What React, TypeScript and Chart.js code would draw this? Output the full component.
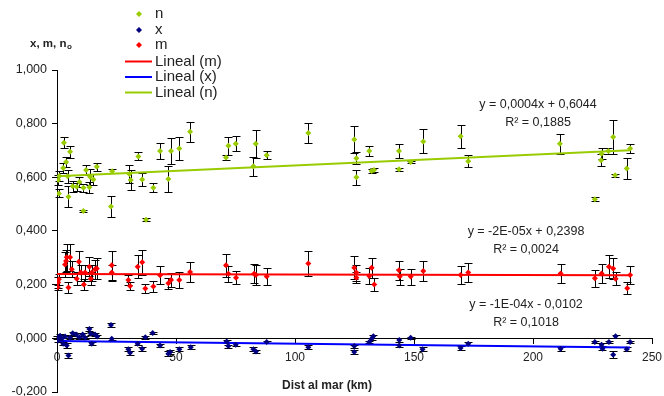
import React, { useEffect, useRef } from "react";
import { Chart, registerables } from "chart.js";

Chart.register(...registerables);

// ---------- DATA ----------
// n series (green)
const nDist = [0.5, 0.8, 1.0, 2.6, 2.9, 3.8, 4.5, 4.8, 5.5, 6.6, 8.3, 9.4, 11.1, 11.1, 12.2, 13.9, 13.6, 15.3, 16.7, 23.2, 22.7, 30.4, 31.0, 34.2, 35.8, 37.4, 40.5, 43.3, 46.8, 47.9, 51.4, 55.9, 71.0, 72.0, 75.1, 82.5, 83.5, 88.1, 105.6, 124.9, 125.8, 125.8, 131.2, 132.2, 133.2, 143.7, 143.7, 148.6, 153.9, 169.6, 172.8, 211.3, 226.0, 228.8, 228.6, 231.7, 233.7, 234.5, 239.4, 240.8];
const nVal = [0.590, 0.540, 0.605, 0.635, 0.729, 0.657, 0.604, 0.528, 0.695, 0.567, 0.565, 0.583, 0.561, 0.475, 0.627, 0.602, 0.563, 0.592, 0.639, 0.623, 0.491, 0.612, 0.590, 0.678, 0.592, 0.442, 0.561, 0.698, 0.594, 0.698, 0.707, 0.770, 0.674, 0.718, 0.725, 0.641, 0.725, 0.682, 0.765, 0.741, 0.671, 0.600, 0.698, 0.624, 0.627, 0.698, 0.630, 0.657, 0.734, 0.753, 0.660, 0.725, 0.518, 0.688, 0.664, 0.698, 0.750, 0.608, 0.633, 0.707];
const nErr = [0.02, 0.015, 0.02, 0.02, 0.02, 0.02, 0.025, 0.04, 0.023, 0.02, 0.015, 0.02, 0.015, 0.005, 0.02, 0.03, 0.02, 0.02, 0.016, 0.007, 0.038, 0.034, 0.037, 0.015, 0.026, 0.005, 0.017, 0.03, 0.049, 0.049, 0.044, 0.038, 0.011, 0.034, 0.028, 0.035, 0.052, 0.015, 0.038, 0.05, 0.022, 0.027, 0.017, 0.007, 0.007, 0.025, 0.005, 0.005, 0.045, 0.043, 0.022, 0.038, 0.008, 0.02, 0.023, 0.012, 0.062, 0.005, 0.038, 0.017];

// x series (navy)
const xDist = [0.0, 0.5, 1.3, 2.0, 2.6, 3.4, 4.1, 4.8, 5.5, 6.6, 8.0, 9.4, 10.8, 11.8, 13.6, 14.2, 14.6, 16.0, 16.9, 22.7, 23.0, 30.0, 30.7, 33.9, 35.8, 37.1, 40.2, 43.3, 46.8, 47.5, 51.4, 56.2, 71.3, 72.0, 75.1, 82.5, 83.6, 88.1, 105.6, 124.9, 124.9, 131.2, 132.2, 132.9, 143.8, 143.8, 148.6, 153.6, 169.6, 172.8, 211.6, 226.0, 228.8, 229.2, 231.9, 234.7, 233.7, 239.4, 240.8];
const xVal = [0.004, -0.008, 0.010, -0.002, -0.020, 0.007, -0.027, -0.064, 0.002, 0.019, 0.014, 0.004, 0.014, 0.002, 0.035, 0.017, -0.020, 0.014, 0.007, 0.050, -0.002, -0.041, -0.054, -0.020, -0.039, 0.004, 0.020, -0.027, -0.057, -0.051, -0.041, -0.033, -0.012, -0.029, -0.024, -0.041, -0.049, -0.014, -0.033, -0.029, -0.051, -0.014, -0.002, 0.008, -0.006, -0.027, 0.002, -0.041, -0.036, -0.020, -0.039, -0.014, -0.024, -0.039, -0.014, 0.008, -0.061, -0.041, -0.014];
const xErr = [0.005, 0.005, 0.005, 0.005, 0.006, 0.005, 0.008, 0.01, 0.005, 0.005, 0.005, 0.005, 0.005, 0.005, 0.008, 0.005, 0.005, 0.005, 0.005, 0.008, 0.004, 0.007, 0.007, 0.005, 0.007, 0.005, 0.005, 0.006, 0.008, 0.008, 0.007, 0.007, 0.005, 0.006, 0.005, 0.007, 0.007, 0.004, 0.007, 0.006, 0.007, 0.005, 0.005, 0.005, 0.006, 0.006, 0.004, 0.007, 0.007, 0.005, 0.007, 0.005, 0.006, 0.006, 0.005, 0.005, 0.012, 0.007, 0.005];

// m series (red)
const mDist = [0.3, 0.5, 0.8, 3.4, 3.8, 4.1, 4.8, 5.5, 6.2, 8.3, 9.2, 10.0, 11.3, 11.8, 13.6, 14.2, 14.6, 16.0, 16.7, 23.0, 23.0, 30.0, 30.7, 33.9, 35.8, 37.1, 40.5, 43.3, 46.8, 47.9, 51.4, 55.9, 71.0, 72.0, 75.2, 82.8, 83.6, 88.1, 105.6, 124.9, 125.8, 125.8, 131.2, 132.2, 133.3, 143.7, 144.0, 148.6, 153.9, 169.6, 172.8, 211.6, 226.0, 228.8, 231.9, 233.7, 234.7, 239.6, 240.8];
const mVal = [0.190, 0.208, 0.220, 0.275, 0.288, 0.302, 0.189, 0.302, 0.257, 0.222, 0.285, 0.245, 0.201, 0.245, 0.267, 0.222, 0.245, 0.257, 0.260, 0.272, 0.245, 0.217, 0.195, 0.267, 0.284, 0.186, 0.193, 0.235, 0.205, 0.217, 0.217, 0.247, 0.272, 0.241, 0.226, 0.241, 0.236, 0.230, 0.279, 0.263, 0.245, 0.226, 0.232, 0.263, 0.201, 0.254, 0.230, 0.230, 0.251, 0.236, 0.245, 0.242, 0.224, 0.242, 0.267, 0.260, 0.222, 0.187, 0.236];
const mErr = [0.01, 0.02, 0.02, 0.045, 0.04, 0.05, 0.02, 0.05, 0.03, 0.025, 0.04, 0.03, 0.02, 0.03, 0.035, 0.025, 0.03, 0.035, 0.04, 0.054, 0.03, 0.02, 0.015, 0.043, 0.047, 0.018, 0.02, 0.033, 0.02, 0.026, 0.03, 0.036, 0.042, 0.03, 0.025, 0.036, 0.036, 0.033, 0.045, 0.043, 0.03, 0.02, 0.03, 0.037, 0.024, 0.036, 0.03, 0.03, 0.037, 0.034, 0.034, 0.034, 0.031, 0.034, 0.043, 0.04, 0.025, 0.022, 0.035];

// trendlines: [slope, intercept]
const trendM = [-0.00002, 0.2398];
const trendX = [-0.0001, -0.0102];
const trendN = [0.0004, 0.6044];
const trendRange = [0, 240.8];

const xTicks = [0, 50, 100, 150, 200, 250];
const yTicks = [-0.2, 0, 0.2, 0.4, 0.6, 0.8, 1.0];

const legendLabels = ["n", "x", "m", "Lineal (m)", "Lineal (x)", "Lineal (n)"];
const eqLabels = [
  ["y = 0,0004x + 0,6044", "R² = 0,1885"],
  ["y = -2E-05x + 0,2398", "R² = 0,0024"],
  ["y = -1E-04x - 0,0102", "R² = 0,1018"],
];

// ---------- STYLE ----------
const GREEN = "#99cc00";
const RED = "#ff0000";
const NAVY = "#000080";
const BLUE = "#0000ff";
const FONT = "'Liberation Sans', Arial, sans-serif";
const TXT = "#222";

const pts = (xs: number[], ys: number[]) => xs.map((x, i) => ({ x, y: ys[i] }));
const trendPts = (c: number[]) => trendRange.map((x) => ({ x, y: c[0] * x + c[1] }));

function drawDiamond(ctx: CanvasRenderingContext2D, x: number, y: number, r: number, color: string) {
  ctx.beginPath();
  ctx.moveTo(x, y - r);
  ctx.lineTo(x + r, y);
  ctx.lineTo(x, y + r);
  ctx.lineTo(x - r, y);
  ctx.closePath();
  ctx.fillStyle = color;
  ctx.fill();
}

const errorBarPlugin = {
  id: "errorBars",
  beforeDatasetsDraw(chart: any) {
    const { ctx, scales } = chart;
    const xs = scales.x;
    const ys = scales.y;
    ctx.save();
    ctx.strokeStyle = "#000";
    ctx.lineWidth = 1;
    chart.data.datasets.forEach((ds: any) => {
      if (!ds.errors) return;
      ds.data.forEach((p: any, i: number) => {
        const e = ds.errors[i];
        const px = Math.round(xs.getPixelForValue(p.x)) + 0.5;
        const t = Math.round(ys.getPixelForValue(p.y + e)) + 0.5;
        const b = Math.round(ys.getPixelForValue(p.y - e)) + 0.5;
        ctx.beginPath();
        ctx.moveTo(px, t);
        ctx.lineTo(px, b);
        ctx.moveTo(px - 4, t);
        ctx.lineTo(px + 4, t);
        ctx.moveTo(px - 4, b);
        ctx.lineTo(px + 4, b);
        ctx.stroke();
      });
    });
    ctx.restore();
  },
};

const textPlugin = {
  id: "texts",
  afterDraw(chart: any) {
    const { ctx } = chart;
    ctx.save();
    // legend
    const rows = [14, 30, 45, 61.5, 77, 92.5];
    const markerColors = [GREEN, NAVY, RED];
    const lineColors = [RED, BLUE, GREEN];
    ctx.font = `15px ${FONT}`;
    ctx.fillStyle = TXT;
    ctx.textBaseline = "middle";
    ctx.textAlign = "left";
    legendLabels.forEach((lab, i) => {
      const y = rows[i];
      if (i < 3) {
        drawDiamond(ctx, 139, y, 3, markerColors[i]);
      } else {
        ctx.strokeStyle = lineColors[i - 3];
        ctx.lineWidth = 2;
        ctx.beginPath();
        ctx.moveTo(125, y);
        ctx.lineTo(152, y);
        ctx.stroke();
      }
      ctx.fillStyle = TXT;
      ctx.fillText(lab, 155, y);
    });

    // y axis title
    ctx.textBaseline = "alphabetic";
    ctx.font = `bold 11.5px ${FONT}`;
    ctx.fillStyle = TXT;
    ctx.fillText("x, m, n", 30, 47);
    const w = ctx.measureText("x, m, n").width;
    ctx.font = `bold 8px ${FONT}`;
    ctx.fillText("o", 30 + w + 0.5, 49);

    // x axis title
    ctx.font = `bold 12px ${FONT}`;
    ctx.textAlign = "center";
    ctx.textBaseline = "middle";
    ctx.fillText("Dist al mar (km)", 327, 386);

    // equations
    ctx.font = `12.5px ${FONT}`;
    const eqPos = [
      [538, 105, 123],
      [526, 232, 250],
      [526, 305, 323],
    ];
    eqLabels.forEach((pair, i) => {
      const [cx, y1, y2] = eqPos[i];
      ctx.fillText(pair[0], cx, y1);
      ctx.fillText(pair[1], cx, y2);
    });
    ctx.restore();
  },
};

export default function App() {
  const ref = useRef<HTMLCanvasElement | null>(null);

  useEffect(() => {
    if (!ref.current) return;
    const chart = new Chart(ref.current, {
      type: "scatter",
      data: {
        datasets: [
          {
            label: "n",
            data: pts(nDist, nVal),
            errors: nErr,
            backgroundColor: GREEN,
            borderColor: GREEN,
            pointStyle: "rectRot",
            pointRadius: 3,
            pointBorderWidth: 0,
            order: 0,
          } as any,
          {
            label: "x",
            data: pts(xDist, xVal),
            errors: xErr,
            backgroundColor: NAVY,
            borderColor: NAVY,
            pointStyle: "rectRot",
            pointRadius: 3,
            pointBorderWidth: 0,
            order: 0,
          } as any,
          {
            label: "m",
            data: pts(mDist, mVal),
            errors: mErr,
            backgroundColor: RED,
            borderColor: RED,
            pointStyle: "rectRot",
            pointRadius: 3,
            pointBorderWidth: 0,
            order: 0,
          } as any,
          {
            type: "line",
            label: "Lineal (m)",
            data: trendPts(trendM),
            borderColor: RED,
            borderWidth: 2,
            pointRadius: 0,
            showLine: true,
            fill: false,
            order: 1,
          } as any,
          {
            type: "line",
            label: "Lineal (x)",
            data: trendPts(trendX),
            borderColor: BLUE,
            borderWidth: 2,
            pointRadius: 0,
            showLine: true,
            fill: false,
            order: 1,
          } as any,
          {
            type: "line",
            label: "Lineal (n)",
            data: trendPts(trendN),
            borderColor: GREEN,
            borderWidth: 2,
            pointRadius: 0,
            showLine: true,
            fill: false,
            order: 1,
          } as any,
        ],
      },
      options: {
        animation: false,
        responsive: false,
        devicePixelRatio: 1,
        layout: { padding: { left: 0, top: 70, right: 12, bottom: 3 } },
        plugins: {
          legend: { display: false },
          tooltip: { enabled: false },
        },
        scales: {
          x: {
            type: "linear",
            position: { y: 0 } as any,
            min: 0,
            max: 250,
            afterBuildTicks: (s: any) => {
              s.ticks = xTicks.map((v) => ({ value: v }));
            },
            afterFit: (s: any) => {
              s.paddingLeft = 0;
              s.paddingRight = 0;
            },
            ticks: {
              font: { family: FONT, size: 12 },
              color: TXT,
              padding: 7,
              maxRotation: 0,
              callback: (v: any) => String(v),
            },
            grid: { drawOnChartArea: false, tickLength: 5, color: "#000" },
            border: { color: "#000", width: 1 },
          },
          y: {
            type: "linear",
            min: -0.2,
            max: 1.0,
            afterBuildTicks: (s: any) => {
              s.ticks = yTicks.map((v) => ({ value: v }));
            },
            afterFit: (s: any) => {
              s.width = 57;
              s.paddingTop = 0;
              s.paddingBottom = 0;
            },
            ticks: {
              font: { family: FONT, size: 12.5 },
              color: TXT,
              padding: 5,
              callback: (v: any) => Number(v).toFixed(3).replace(".", ","),
            },
            grid: { drawOnChartArea: false, tickLength: 5, color: "#000" },
            border: { color: "#000", width: 1 },
          },
        },
      },
      plugins: [errorBarPlugin, textPlugin],
    });
    return () => chart.destroy();
  }, []);

  return (
    <div style={{ position: "fixed", left: 0, top: 0, width: 664, height: 396, background: "#fff" }}>
      <canvas ref={ref} width={664} height={396} style={{ width: 664, height: 396 }} />
    </div>
  );
}
